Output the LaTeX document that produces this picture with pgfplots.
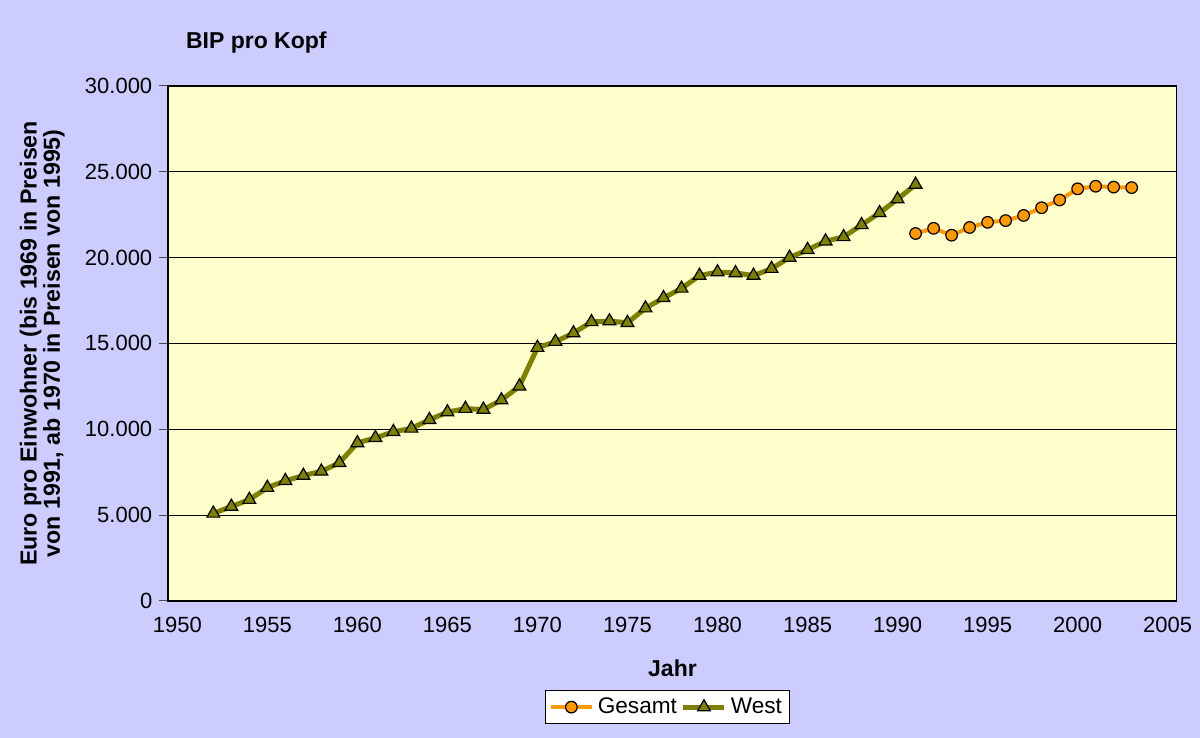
\documentclass[border=0pt]{standalone}
\usepackage{pgfplots}
\pgfplotsset{compat=1.18}
\usepackage{fontspec}
\setmainfont{Liberation Sans}
\definecolor{bgl}{HTML}{CCCCFF}
\definecolor{plotbg}{HTML}{FFFFCC}
\definecolor{olivel}{HTML}{808000}
\definecolor{orangel}{HTML}{FF9900}
\begin{document}
\begin{tikzpicture}
\fill[bgl] (0pt,0pt) rectangle (600pt,369pt);
\useasboundingbox (0pt,0pt) rectangle (600pt,369pt);
\node[font=\bfseries\fontsize{11.5}{13}\selectfont, anchor=west] at (89.5pt,347.5pt) {BIP pro Kopf};
\begin{axis}[
  at={(84.15pt,68.5pt)}, anchor=south west, scale only axis,
  width=504.2pt, height=257.6pt,
  xmin=1949.5, xmax=2005.5, ymin=0, ymax=30000,
  axis background/.style={fill=plotbg},
  axis line style={black, line width=0.8pt},
  xtick pos=bottom, ytick pos=left,
  tick align=outside,
  major tick length=4.5pt, minor tick length=4.5pt,
  tick style={black!70, line width=0.5pt},
  xtick={1950,1955,...,2005},
  xtick style={draw=none},
  minor xtick={1949.5,1950.5,...,2005.5},
  minor x tick style={black!70, line width=0.5pt},
  ytick={0,5000,...,30000},
  ymajorgrids, grid style={black, line width=0.5pt},
  scaled y ticks=false,
  xticklabel style={/pgf/number format/1000 sep={}},
  yticklabel style={/pgf/number format/1000 sep={.}},
  /pgf/number format/assume math mode=true,
  ticklabel style={font=\fontsize{11}{13}\selectfont},
  every axis y label/.style={at={(axis description cs:-0.125,0.5)}, rotate=90, anchor=center, align=center, font=\bfseries\fontsize{11.6}{11.6}\selectfont},
  every axis x label/.style={at={(axis description cs:0.5,-0.13)}, anchor=center, font=\bfseries\fontsize{11.5}{13}\selectfont},
  ylabel={Euro pro Einwohner (bis 1969 in Preisen\\von 1991, ab 1970 in Preisen von 1995)},
  xlabel={Jahr},
  legend columns=2,
  legend style={at={(axis description cs:0.495,-0.206)}, anchor=center, draw=black, fill=white, font=\fontsize{11.3}{13}\selectfont, inner sep=1.5pt},
  legend cell align=left,
  legend image code/.code={\draw[mark repeat=2,mark phase=2,#1] plot coordinates {(0cm,0cm) (0.36cm,0cm) (0.72cm,0cm)};},
]
\addplot[orangel, line width=2pt, mark=*, mark size=2.9pt, mark options={fill=orangel, draw=black, line width=0.6pt}] coordinates {
(1991,21400) (1992,21700) (1993,21300) (1994,21750) (1995,22050) (1996,22150) (1997,22450) (1998,22900) (1999,23350) (2000,24000) (2001,24150) (2002,24100) (2003,24070)
};
\addlegendentry{Gesamt}
\addplot[olivel, line width=2.5pt, mark=triangle*, mark size=3.7pt, mark options={fill=olivel, draw=black, line width=0.6pt}] coordinates {
(1952,5100) (1953,5500) (1954,5900) (1955,6600) (1956,7000) (1957,7300) (1958,7550) (1959,8050) (1960,9200) (1961,9500) (1962,9850) (1963,10050) (1964,10550) (1965,11000) (1966,11200) (1967,11150) (1968,11700) (1969,12500) (1970,14750) (1971,15100) (1972,15600) (1973,16250) (1974,16300) (1975,16200) (1976,17050) (1977,17650) (1978,18200) (1979,18950) (1980,19150) (1981,19100) (1982,18950) (1983,19350) (1984,20000) (1985,20450) (1986,20950) (1987,21200) (1988,21900) (1989,22600) (1990,23400) (1991,24250)
};
\addlegendentry{West}
\end{axis}
\end{tikzpicture}
\end{document}
